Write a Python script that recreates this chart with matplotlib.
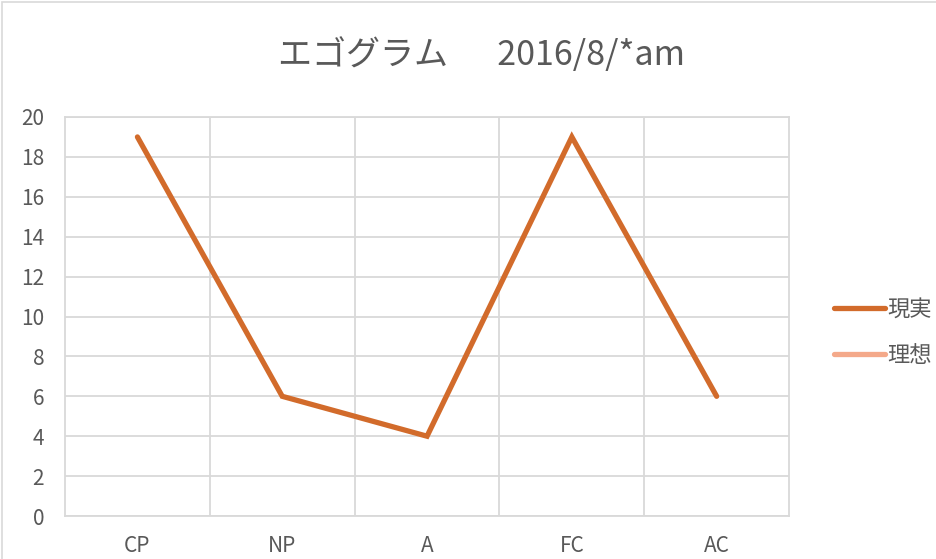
import matplotlib
matplotlib.use("Agg")
from matplotlib import pyplot as plt
from matplotlib.patches import Rectangle

plt.rcParams['font.family'] = ['Noto Sans CJK JP', 'DejaVu Sans']

# data
categories = ["CP", "NP", "A", "FC", "AC"]
genjitsu = [19, 6, 4, 19, 6]   # 現実
risou = [None] * 5             # 理想 (empty series)
yticks = list(range(0, 21, 2))
title = "エゴグラム　  2016/8/*am"

text_col = "#595959"
grid_col = "#D9D9D9"

fig = plt.figure(figsize=(9.37, 5.59), dpi=100)
# chart border like the excel chart frame
fig.patches.append(Rectangle((0.002, -0.1), 1.1, 1.096, transform=fig.transFigure,
                             fill=False, edgecolor=grid_col, linewidth=1.2))

ax = fig.add_axes([0.0694, 0.0769, 0.7727, 0.7138])
x = list(range(len(categories)))
ax.plot(x, genjitsu, color="#D26B2B", linewidth=3.8, solid_capstyle="round",
        solid_joinstyle="miter", label="現実", zorder=3)
ax.plot(x, [float("nan") if v is None else v for v in risou], color="#F4A98A",
        linewidth=3.8, solid_capstyle="round", label="理想")

ax.set_xlim(-0.5, len(categories) - 0.5)
ax.set_ylim(0, 20)
ax.set_yticks(yticks)
ax.set_xticks(x)
ax.set_xticklabels(categories)
ax.set_xticks([i + 0.5 for i in x[:-1]], minor=True)
ax.grid(True, which="major", axis="y", color=grid_col, linewidth=1.3)
ax.grid(True, which="minor", axis="x", color=grid_col, linewidth=1.3)
ax.tick_params(which="both", length=0)
ax.tick_params(axis="y", pad=15, labelsize=15, labelcolor=text_col)
ax.tick_params(axis="x", pad=14, labelsize=15, labelcolor=text_col)
for s in ax.spines.values():
    s.set_color(grid_col)
    s.set_linewidth(1.3)

fig.text(0.514, 0.9, title, ha="center", va="center", fontsize=24.5, color=text_col)

leg = ax.legend(loc="center left", bbox_to_anchor=(1.035, 0.46), frameon=False,
                fontsize=16, handlelength=2.3, handletextpad=0.1, labelspacing=1.05,
                labelcolor=text_col)

fig.savefig("out.png", dpi=100)
